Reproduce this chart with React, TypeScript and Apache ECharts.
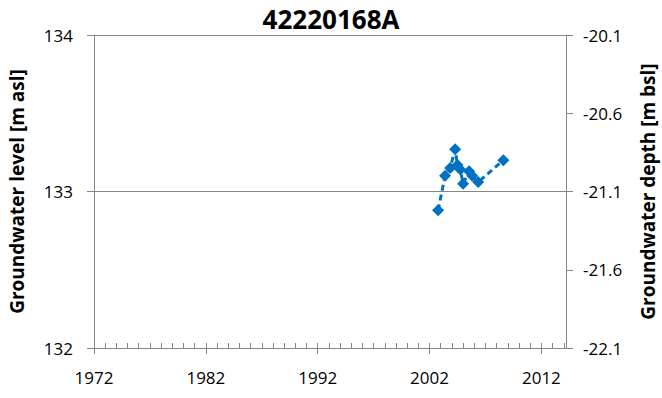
import React, { useEffect, useRef } from "react";
import * as echarts from "echarts";

const title = "42220168A";
const years = [2002.76, 2003.39, 2003.84, 2004.29, 2004.5, 2004.75, 2005.0, 2005.54, 2005.81, 2006.35, 2008.6];
const levels = [132.88, 133.1, 133.15, 133.27, 133.17, 133.14, 133.05, 133.13, 133.1, 133.06, 133.2];
const xLabelsStart = 1972;
const xMaxYears = 42.2;
const depthOffset = 154.1;

const FONT = "'Open Sans', 'Noto Sans', sans-serif";
const BLUE = "#0070C0";
const AXIS_GRAY = "#868686";

export default function App() {
  const ref = useRef<HTMLDivElement>(null);
  useEffect(() => {
    document.body.style.margin = "0";
    if (!ref.current) return;
    const chart = echarts.init(ref.current, undefined, { renderer: "svg" });
    const data = years.map((y, i) => [y - xLabelsStart, levels[i]]);
    chart.setOption({
      animation: false,
      title: {
        text: title,
        left: "center",
        top: 1,
        textStyle: { fontFamily: FONT, fontSize: 26, fontWeight: "bold", color: "#000" },
      },
      grid: { left: 94, right: 96, top: 35, bottom: 50, outerBoundsMode: "none", containLabel: false },
      xAxis: [
        {
          type: "value",
          position: "bottom",
          min: 0,
          max: xMaxYears,
          interval: 10,
          axisLine: { onZero: false, lineStyle: { color: AXIS_GRAY, width: 1 } },
          axisTick: { show: true, length: 6, lineStyle: { color: AXIS_GRAY } },
          axisLabel: {
            showMaxLabel: false,
            margin: 21,
            formatter: (v: number) => String(Math.round(v + xLabelsStart)),
            fontFamily: FONT,
            fontSize: 17,
            color: "#000",
          },
          splitLine: { show: false },
        },
        {
          type: "value",
          position: "bottom",
          min: 0,
          max: xMaxYears,
          interval: 1,
          axisLine: { show: false, onZero: false },
          axisTick: { show: true, inside: true, length: 5, lineStyle: { color: AXIS_GRAY } },
          axisLabel: { show: false },
          splitLine: { show: false },
        },
      ],
      yAxis: [
        {
          type: "value",
          position: "left",
          min: 132,
          max: 134,
          interval: 1,
          name: "Groundwater level [m asl]",
          nameLocation: "middle",
          nameGap: 68,
          nameTextStyle: { fontFamily: FONT, fontSize: 19, fontWeight: "bold", color: "#000" },
          axisLine: { show: true, onZero: false, lineStyle: { color: AXIS_GRAY } },
          axisTick: { show: true, length: 7, lineStyle: { color: AXIS_GRAY } },
          axisLabel: { margin: 21, fontFamily: FONT, fontSize: 17, color: "#000" },
          splitLine: { show: true, lineStyle: { color: AXIS_GRAY, width: 1 } },
        },
        {
          type: "value",
          min: 132,
          max: 134,
          interval: 0.5,
          position: "right",
          name: "Groundwater depth [m bsl]",
          nameLocation: "middle",
          nameGap: 72,
          nameRotate: 90,
          nameTextStyle: { fontFamily: FONT, fontSize: 19, fontWeight: "bold", color: "#000" },
          axisLine: { show: true, onZero: false, lineStyle: { color: AXIS_GRAY } },
          axisTick: { show: true, length: 7, lineStyle: { color: AXIS_GRAY } },
          axisLabel: {
            margin: 17,
            fontFamily: FONT,
            fontSize: 17,
            color: "#000",
            formatter: (v: number) => (v - depthOffset).toFixed(1),
          },
          splitLine: { show: false },
        },
      ],
      series: [
        {
          type: "line",
          xAxisIndex: 0,
          yAxisIndex: 0,
          data,
          symbol: "diamond",
          symbolSize: 12,
          itemStyle: { color: BLUE },
          lineStyle: { color: BLUE, width: 3, type: [6, 4] },
        },
      ],
    });
    return () => chart.dispose();
  }, []);
  return <div ref={ref} style={{ width: 662, height: 398 }} />;
}
